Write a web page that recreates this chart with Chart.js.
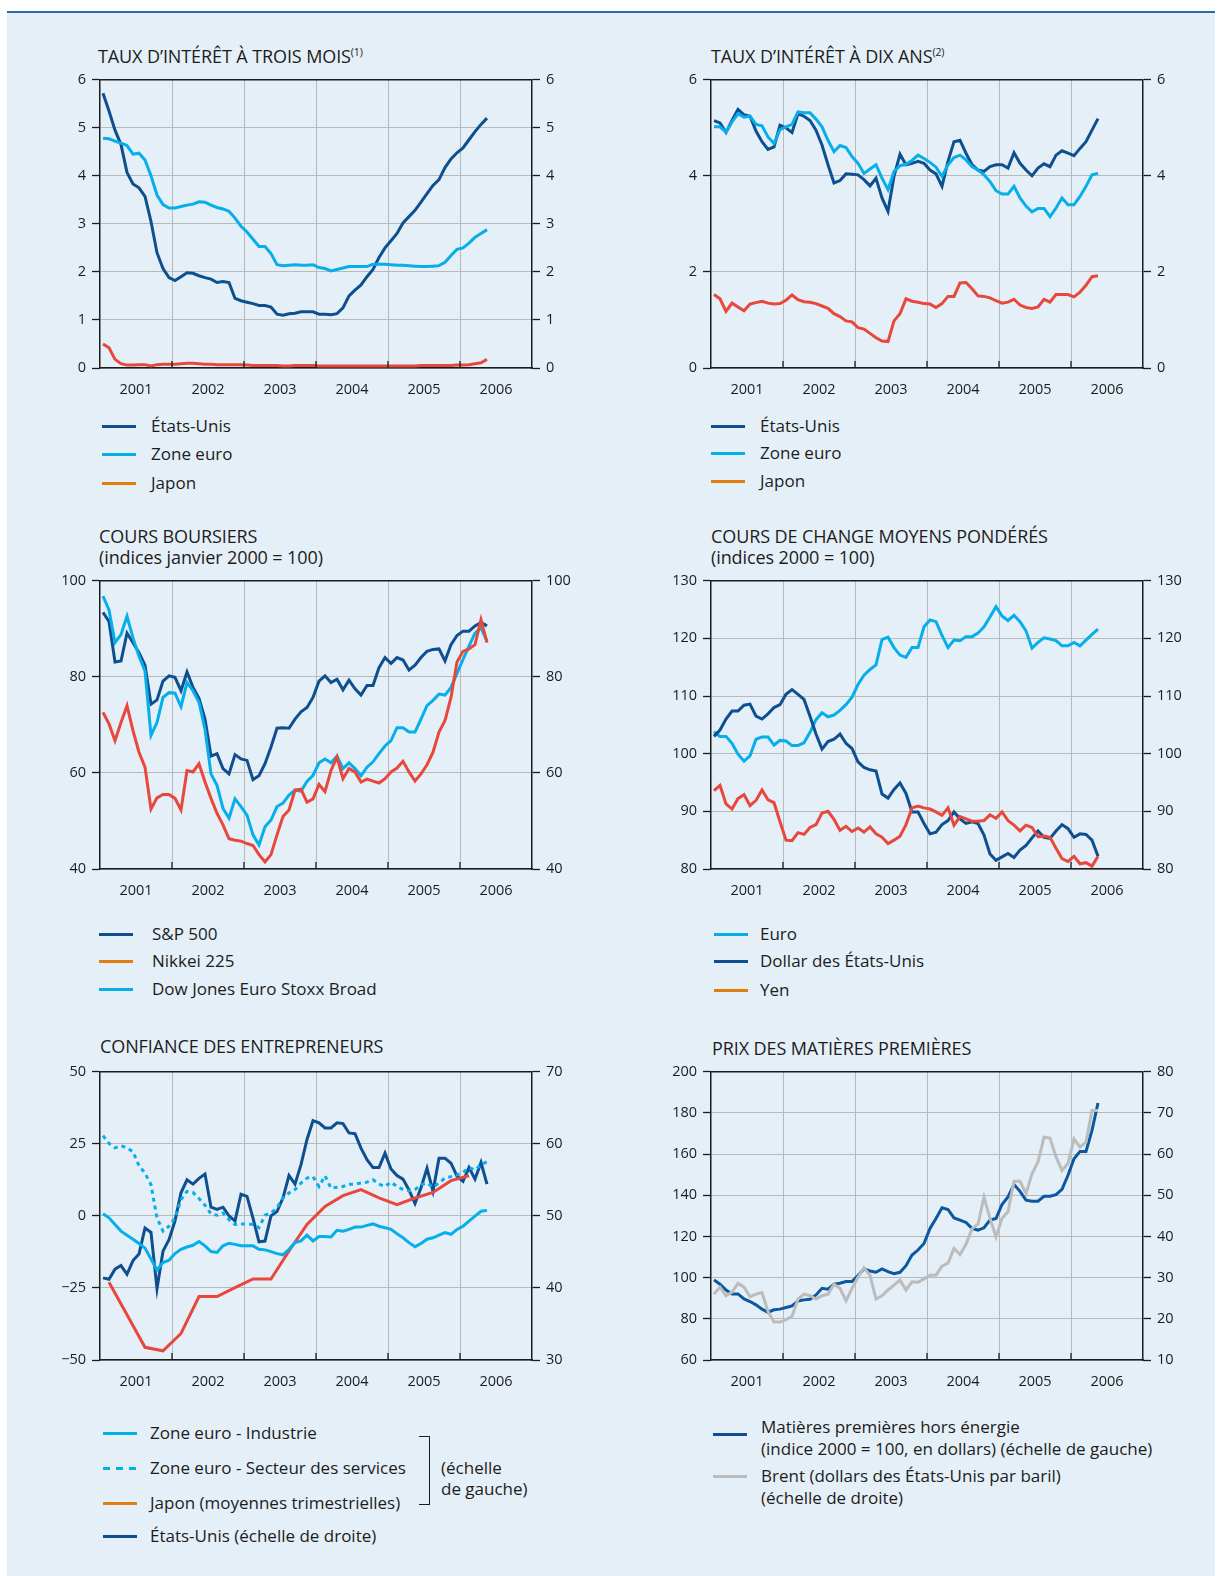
<!DOCTYPE html>
<html lang="fr">
<head>
<meta charset="utf-8">
<title>Indicateurs financiers</title>
<script src="https://cdn.jsdelivr.net/npm/chart.js@4.4.1/dist/chart.umd.min.js"></script>
<style>
  body { margin: 0; width: 1221px; height: 1576px; position: relative; overflow: hidden; background: #fff; font-family: "Open Sans", sans-serif; color: #1c1c1c; }
  #fond { position: absolute; left: 7px; top: 13px; width: 1208px; height: 1563px; background: #e5eff7; }
  #filet { position: absolute; left: 7px; top: 11px; width: 1208px; height: 2px; background: #2c67ad; }
  .titre { position: absolute; font-size: 18px; line-height: 21px; white-space: nowrap; letter-spacing: -0.1px; }
  .titre sup { font-size: 10.5px; vertical-align: 7px; line-height: 0; }
  canvas { position: absolute; }
  .leg { position: absolute; font-size: 17px; line-height: 22px; white-space: nowrap; }
  .ech { position: absolute; height: 3px; width: 34px; }
  .acc { position: absolute; border: 1.5px solid #1c1c1c; border-left: none; width: 10px; }
</style>
</head>
<body>
<div id="fond"></div>
<div id="filet"></div>

<!-- titres -->
<div class="titre" style="left:98px; top:46px">TAUX D’INTÉRÊT À TROIS MOIS<sup>(1)</sup></div>
<div class="titre" style="left:711px; top:46px">TAUX D’INTÉRÊT À DIX ANS<sup>(2)</sup></div>
<div class="titre" style="left:99px; top:526px">COURS BOURSIERS<br>(indices janvier 2000 = 100)</div>
<div class="titre" style="left:711px; top:526px">COURS DE CHANGE MOYENS PONDÉRÉS<br>(indices 2000 = 100)</div>
<div class="titre" style="left:100px; top:1036px">CONFIANCE DES ENTREPRENEURS</div>
<div class="titre" style="left:712px; top:1038px">PRIX DES MATIÈRES PREMIÈRES</div>

<canvas id="c1" width="572" height="338" style="left:30px; top:65px"></canvas>
<canvas id="c2" width="572" height="338" style="left:641px; top:65px"></canvas>
<canvas id="c3" width="572" height="338" style="left:30px; top:566px"></canvas>
<canvas id="c4" width="572" height="338" style="left:641px; top:566px"></canvas>
<canvas id="c5" width="572" height="338" style="left:30px; top:1057px"></canvas>
<canvas id="c6" width="572" height="338" style="left:641px; top:1057px"></canvas>

<!-- légendes -->
<div class="ech" style="left:102px; top:425px; background:#0d4f8f"></div>
<div class="leg" style="left:151px; top:415px">États-Unis</div>
<div class="ech" style="left:102px; top:453px; background:#06aeea"></div>
<div class="leg" style="left:151px; top:443px">Zone euro</div>
<div class="ech" style="left:102px; top:482px; background:#e07d10"></div>
<div class="leg" style="left:151px; top:472px">Japon</div>

<div class="ech" style="left:711px; top:425px; background:#0d4f8f"></div>
<div class="leg" style="left:760px; top:415px">États-Unis</div>
<div class="ech" style="left:711px; top:452px; background:#06aeea"></div>
<div class="leg" style="left:760px; top:442px">Zone euro</div>
<div class="ech" style="left:711px; top:480px; background:#e07d10"></div>
<div class="leg" style="left:760px; top:470px">Japon</div>

<div class="ech" style="left:99px; top:933px; background:#0d4f8f"></div>
<div class="leg" style="left:152px; top:923px">S&amp;P 500</div>
<div class="ech" style="left:99px; top:960px; background:#e07d10"></div>
<div class="leg" style="left:152px; top:950px">Nikkei 225</div>
<div class="ech" style="left:99px; top:988px; background:#06aeea"></div>
<div class="leg" style="left:152px; top:978px">Dow Jones Euro Stoxx Broad</div>

<div class="ech" style="left:714px; top:933px; background:#06aeea"></div>
<div class="leg" style="left:760px; top:923px">Euro</div>
<div class="ech" style="left:714px; top:960px; background:#0d4f8f"></div>
<div class="leg" style="left:760px; top:950px">Dollar des États-Unis</div>
<div class="ech" style="left:714px; top:989px; background:#e07d10"></div>
<div class="leg" style="left:760px; top:979px">Yen</div>

<div class="ech" style="left:103px; top:1432px; background:#06aeea"></div>
<div class="leg" style="left:150px; top:1422px">Zone euro - Industrie</div>
<div class="ech" style="left:103px; top:1467px; background:repeating-linear-gradient(to right, #06aeea 0 7px, transparent 7px 13px)"></div>
<div class="leg" style="left:150px; top:1457px">Zone euro - Secteur des services</div>
<div class="ech" style="left:103px; top:1502px; background:#e07d10"></div>
<div class="leg" style="left:150px; top:1492px">Japon (moyennes trimestrielles)</div>
<div class="ech" style="left:103px; top:1535px; background:#0d4f8f"></div>
<div class="leg" style="left:150px; top:1525px">États-Unis (échelle de droite)</div>
<div class="acc" style="left:419px; top:1436px; height:67px"></div>
<div class="leg" style="left:441px; top:1457px; line-height:21px">(échelle<br>de gauche)</div>

<div class="ech" style="left:713px; top:1433px; background:#0d4f8f"></div>
<div class="leg" style="left:761px; top:1416px; line-height:21.5px">Matières premières hors énergie<br>(indice 2000 = 100, en dollars) (échelle de gauche)</div>
<div class="ech" style="left:713px; top:1475px; background:#bcbcbc"></div>
<div class="leg" style="left:761px; top:1465px; line-height:21.5px">Brent (dollars des États-Unis par baril)<br>(échelle de droite)</div>

<script>
// séries mensuelles : indice 0 = janvier 2001, dernier point = mai 2006
const annees = ['2001', '2002', '2003', '2004', '2005', '2006'];

const tauxCourtUS = [5.72,5.35,4.95,4.65,4.07,3.83,3.75,3.57,3.05,2.40,2.07,1.88,1.82,
  1.90,1.98,1.97,1.92,1.88,1.85,1.78,1.80,1.78,1.45,1.40,1.37,
  1.34,1.30,1.30,1.27,1.12,1.10,1.13,1.14,1.17,1.17,1.17,1.12,
  1.12,1.11,1.13,1.25,1.50,1.62,1.73,1.90,2.05,2.30,2.50,2.65,
  2.80,3.02,3.15,3.28,3.45,3.63,3.80,3.92,4.17,4.35,4.48,4.58,
  4.75,4.92,5.07,5.20];
const tauxCourtEuro = [4.78,4.77,4.72,4.68,4.63,4.45,4.47,4.33,4.00,3.60,3.40,3.33,3.33,
  3.36,3.39,3.41,3.46,3.45,3.39,3.34,3.31,3.26,3.12,2.95,2.83,
  2.68,2.53,2.53,2.38,2.15,2.13,2.14,2.15,2.14,2.14,2.15,2.09,
  2.07,2.02,2.05,2.08,2.11,2.11,2.11,2.11,2.16,2.16,2.16,2.15,
  2.14,2.14,2.13,2.12,2.11,2.11,2.12,2.13,2.20,2.34,2.47,2.50,
  2.60,2.72,2.80,2.88];
const tauxCourtJapon = [0.50,0.42,0.18,0.09,0.06,0.06,0.07,0.07,0.04,0.07,0.08,0.08,0.08,
  0.09,0.10,0.10,0.09,0.08,0.08,0.07,0.07,0.07,0.07,0.07,0.06,
  0.05,0.05,0.05,0.05,0.05,0.04,0.04,0.05,0.05,0.05,0.05,0.04,
  0.04,0.04,0.04,0.04,0.04,0.04,0.04,0.04,0.04,0.04,0.04,0.04,
  0.04,0.04,0.04,0.04,0.05,0.05,0.05,0.05,0.05,0.05,0.06,0.06,
  0.07,0.09,0.11,0.18];

const tauxLongUS = [5.15,5.10,4.90,5.15,5.38,5.27,5.24,4.93,4.71,4.55,4.60,5.05,5.00,
  4.90,5.29,5.24,5.15,4.95,4.64,4.23,3.85,3.90,4.04,4.03,4.02,
  3.92,3.79,3.95,3.54,3.26,3.99,4.45,4.23,4.26,4.30,4.26,4.12,
  4.04,3.78,4.30,4.71,4.74,4.47,4.23,4.12,4.09,4.19,4.23,4.23,
  4.16,4.48,4.26,4.12,4.00,4.16,4.25,4.19,4.43,4.52,4.47,4.42,
  4.57,4.71,4.95,5.19];
const tauxLongEuro = [5.02,5.02,4.91,5.12,5.29,5.22,5.24,5.07,5.04,4.81,4.67,4.96,5.02,
  5.07,5.33,5.31,5.31,5.18,5.02,4.74,4.50,4.63,4.59,4.40,4.26,
  4.05,4.14,4.23,3.95,3.71,4.09,4.21,4.24,4.32,4.43,4.36,4.28,
  4.18,3.99,4.23,4.38,4.43,4.33,4.19,4.12,4.02,3.88,3.69,3.62,
  3.62,3.78,3.54,3.37,3.25,3.32,3.32,3.15,3.33,3.54,3.40,3.40,
  3.57,3.78,4.02,4.05];
const tauxLongJapon = [1.53,1.44,1.18,1.35,1.27,1.19,1.33,1.36,1.39,1.35,1.33,1.34,1.41,
  1.52,1.42,1.38,1.37,1.34,1.29,1.24,1.13,1.07,0.98,0.96,0.84,
  0.81,0.72,0.63,0.56,0.55,0.98,1.13,1.44,1.39,1.37,1.34,1.33,
  1.26,1.34,1.49,1.49,1.77,1.78,1.65,1.50,1.49,1.46,1.40,1.35,
  1.37,1.43,1.31,1.26,1.24,1.27,1.43,1.37,1.53,1.53,1.53,1.48,
  1.58,1.72,1.90,1.92];

const sp500 = [93.4,91.5,83.1,83.3,89.1,87.1,85.0,82.4,74.3,75.2,79.1,80.2,79.9,
  77.1,81.0,77.8,75.5,71.2,63.5,64.0,60.9,59.8,63.8,62.9,62.6,
  58.6,59.4,61.9,65.4,69.3,69.4,69.3,71.2,72.7,73.6,75.7,79.1,
  80.2,78.8,79.5,77.3,79.3,77.5,76.2,78.2,78.2,81.9,84.0,82.8,
  84.0,83.5,81.4,82.4,84.0,85.3,85.7,85.8,83.3,86.7,88.6,89.5,
  89.5,90.6,91.3,90.6];
const nikkei = [72.6,70.2,66.7,70.5,74.0,68.8,64.3,61.2,52.5,54.8,55.5,55.5,54.7,
  52.3,60.5,60.2,61.9,58.1,54.7,51.6,49.2,46.3,46.0,45.8,45.3,
  44.9,43.0,41.5,43.0,47.1,50.9,52.3,56.4,56.6,53.9,54.6,57.6,
  56.1,60.5,63.3,58.8,60.9,60.2,58.1,58.7,58.3,57.9,58.8,60.2,
  61.0,62.4,60.2,58.3,59.8,61.7,64.3,68.5,70.9,75.7,83.1,85.3,
  85.8,86.7,91.9,87.1];
const euroStoxx = [96.8,93.9,87.1,88.8,92.6,88.1,84.3,81.2,67.8,70.5,75.7,76.7,76.6,
  73.8,78.8,77.1,74.7,69.1,59.8,57.4,52.6,50.6,54.6,53.0,51.2,
  47.1,45.0,48.8,50.2,53.0,53.7,55.4,56.4,56.2,58.2,59.5,62.1,
  62.9,62.1,63.5,60.9,62.1,60.9,59.4,61.2,62.3,64.0,65.6,66.7,
  69.4,69.4,68.5,68.5,71.2,74.0,75.1,76.4,76.2,77.8,80.7,83.6,
  86.4,89.1,90.2,87.4];

const changeEuro = [103.8,103.0,103.0,101.8,99.9,98.7,99.6,102.5,102.9,102.9,101.5,102.3,102.2,
  101.4,101.4,101.9,103.7,105.9,107.1,106.4,106.7,107.5,108.5,109.8,112.0,
  113.6,114.6,115.4,119.8,120.2,118.4,117.1,116.7,118.4,118.4,122.0,123.2,
  122.9,120.5,118.4,119.7,119.6,120.3,120.3,120.9,122.0,123.7,125.5,123.9,
  123.1,124.0,122.9,121.3,118.3,119.3,120.1,119.9,119.6,118.7,118.7,119.3,
  118.7,119.7,120.7,121.6];
const changeDollar = [103.0,104.1,106.0,107.4,107.4,108.4,108.6,106.5,106.0,106.9,108.0,108.5,110.3,
  111.1,110.3,109.4,106.5,103.4,100.8,102.1,102.5,103.4,101.8,100.9,98.6,
  97.6,97.2,97.0,93.0,92.3,93.8,94.9,93.1,89.9,89.9,87.9,86.1,
  86.4,87.7,88.4,89.9,88.7,87.9,88.2,87.9,85.9,82.6,81.5,82.1,
  82.7,82.0,83.3,84.1,85.4,86.6,85.5,85.3,86.6,87.7,87.0,85.5,
  86.1,86.0,85.0,82.2];
const changeYen = [93.6,94.5,91.3,90.4,92.2,92.9,91.0,91.9,93.7,92.0,91.5,88.2,85.0,
  84.9,86.3,86.0,87.2,87.7,89.7,90.0,88.6,86.7,87.4,86.5,87.1,
  86.4,87.3,86.1,85.5,84.4,85.0,85.7,87.7,90.6,90.9,90.6,90.4,
  89.9,89.3,90.6,87.6,89.1,88.7,88.3,88.3,88.4,89.4,88.8,89.9,
  88.4,87.6,86.6,87.6,87.2,85.6,85.7,85.5,83.6,81.8,81.3,82.2,
  80.9,81.1,80.5,82.2];

const confIndustrie = [0.7,-0.7,-3.0,-5.3,-6.7,-8.1,-9.6,-11.2,-15.0,-18.8,-16.2,-15.4,-13.1,
  -11.6,-10.8,-10.2,-8.9,-10.4,-12.4,-12.7,-10.4,-9.5,-9.9,-10.4,-10.4,
  -10.4,-11.6,-11.8,-12.4,-13.1,-13.5,-11.6,-9.3,-8.7,-6.7,-8.7,-7.2,
  -7.2,-7.3,-5.0,-5.3,-4.7,-3.9,-3.9,-3.3,-2.8,-3.6,-4.1,-4.7,
  -6.2,-7.6,-9.3,-10.7,-9.6,-8.1,-7.6,-6.7,-5.8,-6.4,-4.7,-3.6,
  -1.8,-0.1,1.6,1.9];
const confServices = [27.8,25.1,23.6,24.3,23.6,22.2,17.4,14.8,10.8,-0.7,-5.3,-3.6,-0.7,
  5.6,8.5,8.1,6.0,3.7,0.7,0.2,1.0,-1.3,-3.0,-2.8,-2.8,
  -3.0,-4.1,0.2,1.0,2.8,6.2,7.9,9.1,11.4,13.1,13.6,10.2,
  13.9,9.6,9.9,10.2,11.0,11.0,11.4,11.7,12.5,11.0,10.2,11.7,
  10.2,9.1,8.7,9.1,10.8,11.4,9.9,11.4,13.1,13.6,14.2,15.1,
  16.7,15.9,17.7,18.8];
// Tankan : un point par trimestre, placé au mois central
const tankanMois = [1,4,7,10,13,16,19,22,25,28,31,34,37,40,43,46,49,52,55,58,61];
const tankan = [-23.0,-34.3,-45.6,-46.8,-40.8,-28.0,-28.0,-24.9,-21.9,-21.9,-12.2,
  -3.0,3.3,7.0,9.1,6.2,3.9,6.2,8.1,12.2,13.9];
const ismUS = [41.4,41.2,42.6,43.1,41.9,43.8,44.7,48.3,47.7,39.9,45.1,46.7,49.3,
  53.2,55.0,54.4,55.2,55.8,51.2,50.9,51.2,50.0,49.3,53.0,52.7,
  49.7,46.4,46.5,50.0,50.6,52.5,55.6,54.4,57.1,60.6,63.2,62.9,
  62.2,62.2,62.9,62.8,61.5,61.4,59.4,57.8,56.7,56.7,58.7,56.5,
  55.6,55.1,53.6,51.7,53.9,56.6,53.4,58.0,58.0,57.3,55.5,54.8,
  56.7,55.1,57.4,54.4];

const horsEnergie = [98.9,96.8,94.0,92.1,92.1,89.7,88.4,86.8,84.7,83.2,84.4,84.7,85.5,
  86.3,88.7,89.2,89.5,91.6,94.8,94.4,96.8,97.3,98.1,98.1,101.0,
  104.2,103.2,102.6,104.2,102.9,101.9,102.6,105.8,111.0,113.4,116.6,123.9,
  128.7,133.9,133.1,129.0,127.9,126.8,123.9,123.1,124.2,127.9,128.7,135.5,
  139.2,145.2,141.9,137.6,137.1,137.1,139.5,139.5,140.3,142.9,149.7,157.7,
  161.3,161.3,171.5,184.8];
const brent = [26.0,27.7,25.6,26.5,28.6,27.7,25.4,26.0,26.4,21.8,19.2,19.2,19.8,
  20.6,24.8,26.0,25.6,24.8,25.6,26.0,28.4,27.4,24.4,27.4,30.1,
  32.4,30.6,24.8,25.6,27.0,28.2,29.4,27.0,29.0,28.9,29.7,30.6,
  30.6,32.8,33.5,37.1,35.6,38.1,41.9,43.0,49.6,44.4,39.9,44.4,
  46.0,53.4,53.4,50.4,55.2,58.1,64.1,63.9,59.3,56.0,57.7,63.7,
  61.7,62.9,70.6,70.6];

const FONCE = '#0d4f8f';
const CLAIR = '#06aeea';
const ROUGE = '#e8473c';
const GRIS = '#bcbcbc';
const police = '"Open Sans", sans-serif';
const grille = '#b9b9b9';
const encre = '#1c1c1c';

// courbe mensuelle : le point du mois i est au milieu de sa case
function serie(valeurs, couleur, axe, extra) {
  return Object.assign({
    data: valeurs.map((v, i) => ({ x: i + 0.5, y: v })),
    borderColor: couleur,
    borderWidth: 3,
    pointRadius: 0,
    tension: 0,
    fill: false,
    yAxisID: axe || 'y'
  }, extra || {});
}

function signe(v) {
  return v < 0 ? '\u2212' + Math.abs(v) : String(v);
}

function axeY(position, min, max, pas, surGraphe) {
  return {
    position: position,
    min: min,
    max: max,
    afterFit: s => { s.width = 70; },
    ticks: { stepSize: pas, color: encre, font: { family: police, size: 14.5 }, padding: 6, callback: signe },
    grid: { drawOnChartArea: surGraphe, color: grille, lineWidth: 1, tickLength: 8, tickColor: encre, tickWidth: 1.3 },
    border: { color: encre, width: 1.5 }
  };
}

const axeX = {
  type: 'linear',
  min: 0,
  max: 72,
  afterFit: s => { s.height = 35; },
  ticks: {
    stepSize: 6,
    autoSkip: false,
    maxRotation: 0,
    padding: 13,
    color: encre,
    font: { family: police, size: 14.5 },
    callback: v => (v % 12 === 6 ? annees[(v - 6) / 12] : '')
  },
  grid: {
    drawTicks: false,
    lineWidth: 1,
    color: c => (c.tick && c.tick.value % 12 === 0 && c.tick.value > 0 && c.tick.value < 72 ? grille : 'rgba(0,0,0,0)')
  },
  border: { color: encre, width: 1.5 }
};

// bord supérieur du cadre + petites graduations annuelles en bas
const cadre = {
  id: 'cadre',
  afterDraw(chart) {
    const ctx = chart.ctx;
    const a = chart.chartArea;
    ctx.save();
    ctx.strokeStyle = encre;
    ctx.lineWidth = 1.5;
    ctx.beginPath();
    ctx.moveTo(a.left, a.top);
    ctx.lineTo(a.right, a.top);
    ctx.stroke();
    ctx.lineWidth = 1.3;
    ctx.beginPath();
    for (let v = 12; v < 72; v += 12) {
      const x = chart.scales.x.getPixelForValue(v);
      ctx.moveTo(x, a.bottom);
      ctx.lineTo(x, a.bottom - 7);
    }
    ctx.stroke();
    ctx.restore();
  }
};

function graphique(id, datasets, gauche, droite) {
  return new Chart(document.getElementById(id), {
    type: 'line',
    data: { datasets: datasets },
    options: {
      responsive: false,
      animation: false,
      layout: { padding: { top: 12, left: 0, right: 0, bottom: 0 } },
      plugins: { legend: { display: false }, tooltip: { enabled: false } },
      scales: { x: axeX, y: gauche, y2: droite }
    },
    plugins: [cadre]
  });
}

graphique('c1', [
  serie(tauxCourtJapon, ROUGE),
  serie(tauxCourtEuro, CLAIR),
  serie(tauxCourtUS, FONCE)
], axeY('left', 0, 6, 1, true), axeY('right', 0, 6, 1, false));

graphique('c2', [
  serie(tauxLongJapon, ROUGE),
  serie(tauxLongEuro, CLAIR),
  serie(tauxLongUS, FONCE)
], axeY('left', 0, 6, 2, true), axeY('right', 0, 6, 2, false));

graphique('c3', [
  serie(nikkei, ROUGE),
  serie(euroStoxx, CLAIR),
  serie(sp500, FONCE)
], axeY('left', 40, 100, 20, true), axeY('right', 40, 100, 20, false));

graphique('c4', [
  serie(changeYen, ROUGE),
  serie(changeDollar, FONCE),
  serie(changeEuro, CLAIR)
], axeY('left', 80, 130, 10, true), axeY('right', 80, 130, 10, false));

graphique('c5', [
  serie(confIndustrie, CLAIR),
  serie(confServices, CLAIR, 'y', { borderDash: [4, 4] }),
  {
    data: tankan.map((v, i) => ({ x: tankanMois[i] + 0.5, y: v })),
    borderColor: ROUGE, borderWidth: 3, pointRadius: 0, tension: 0, fill: false, yAxisID: 'y'
  },
  serie(ismUS, FONCE, 'y2')
], axeY('left', -50, 50, 25, true), axeY('right', 30, 70, 10, false));

graphique('c6', [
  serie(brent, GRIS, 'y2'),
  serie(horsEnergie, '#0b57a0', 'y')
], axeY('left', 60, 200, 20, true), axeY('right', 10, 80, 10, false));
</script>
</body>
</html>
